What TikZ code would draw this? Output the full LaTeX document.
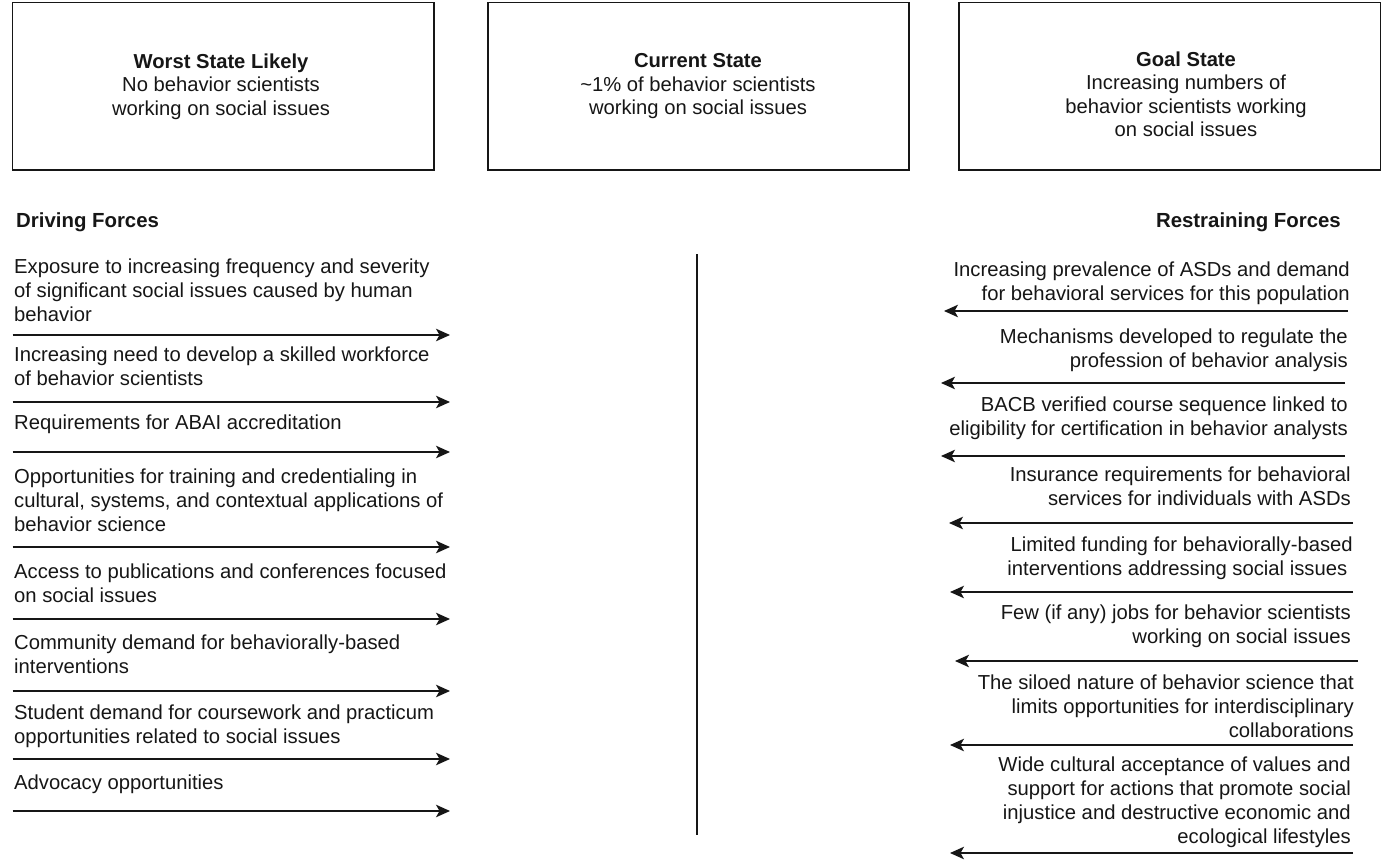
\documentclass[tikz,border=0pt]{standalone}
\usepackage{fontspec}
\setmainfont{Liberation Sans}
\usetikzlibrary{arrows.meta}
\definecolor{ink}{RGB}{22,22,22}
\begin{document}
\begin{tikzpicture}[x=1pt,y=-1pt,
  statebox/.style={draw=ink,line width=1.5pt,fill=white},
  boxtext/.style={anchor=north,align=center,inner sep=0pt,text=ink,font=\fontsize{20.2}{23.5}\selectfont},
  lefttext/.style={anchor=north west,align=left,inner sep=0pt,text=ink,font=\fontsize{20.25}{24}\selectfont},
  righttext/.style={anchor=north east,align=right,inner sep=0pt,text=ink,font=\fontsize{20.25}{24}\selectfont},
  heading/.style={inner sep=0pt,text=ink,font=\fontsize{20.4}{24}\selectfont\bfseries},
  force/.style={draw=ink,line width=1.4pt,-{Stealth[length=14pt,width=12.5pt,inset=3.5pt]}},
  divider/.style={draw=ink,line width=1.4pt}]
\useasboundingbox (0,0) rectangle (1382,864);
% state boxes
\draw[statebox] (12.5,2.5) rectangle (434,170);
\draw[statebox] (488,2.5) rectangle (909,170);
\draw[statebox] (959,2.5) rectangle (1380.5,170);
\node[boxtext] (worst) at (221,53.5) {\textbf{Worst State Likely}\\No behavior scientists\\working on social issues};
\node[boxtext] (current) at (698,53.5) {\textbf{Current State}\\\textasciitilde1\% of behavior scientists\\working on social issues};
\node[boxtext] (goal) at (1186,51.5) {\textbf{Goal State}\\Increasing numbers of\\behavior scientists working\\on social issues};
% headings
\node[heading,anchor=base west] (driving) at (16,227) {Driving Forces};
\node[heading,anchor=base east] (restraining) at (1341,227) {Restraining Forces};
% divider
\coordinate (dtop) at (697,254);
\coordinate (dbot) at (697,835);
\draw[divider] (dtop) -- (dbot);
% driving forces
\node[lefttext] (d1) at (14,258.7) {Exposure to increasing frequency and severity\\of significant social issues caused by human\\behavior};
\node[lefttext] (d2) at (14,346.2) {Increasing need to develop a skilled workforce\\of behavior scientists};
\node[lefttext] (d3) at (14,414.2) {Requirements for ABAI accreditation};
\node[lefttext] (d4) at (14,468.2) {Opportunities for training and credentialing in\\cultural, systems, and contextual applications of\\behavior science};
\node[lefttext] (d5) at (14,563.2) {Access to publications and conferences focused\\on social issues};
\node[lefttext] (d6) at (14,634.2) {Community demand for behaviorally-based\\interventions};
\node[lefttext] (d7) at (14,704.2) {Student demand for coursework and practicum\\opportunities related to social issues};
\node[lefttext] (d8) at (14,774.2) {Advocacy opportunities};
\foreach \i/\y in {1/335,2/402,3/452,4/547,5/619,6/691,7/759,8/811}{
  \coordinate (ds\i) at (12.5,\y);
  \coordinate (de\i) at (450,\y);
  \draw[force] (ds\i) -- (de\i);
}
% restraining forces
\node[righttext] (r1) at (1350,261.2) {Increasing prevalence of ASDs and demand\\for behavioral services for this population};
\node[righttext] (r2) at (1348,328.2) {Mechanisms developed to regulate the\\profession of behavior analysis};
\node[righttext] (r3) at (1348,396.2) {BACB verified course sequence linked to\\eligibility for certification in behavior analysts};
\node[righttext] (r4) at (1351,466.2) {Insurance requirements for behavioral\\services for individuals with ASDs};
\node[righttext] (r5) at (1353,536.2) {Limited funding for behaviorally-based\\interventions addressing social issues\hspace*{5.5pt}};
\node[righttext] (r6) at (1351,604.2) {Few (if any) jobs for behavior scientists\\working on social issues};
\node[righttext] (r7) at (1354,674.2) {The siloed nature of behavior science that\\limits opportunities for interdisciplinary\\collaborations};
\node[righttext] (r8) at (1351,756.2) {Wide cultural acceptance of values and\\support for actions that promote social\\injustice and destructive economic and\\ecological lifestyles};
\foreach \i/\xs/\xe/\y in {1/1348/944/311,2/1345/941/383,3/1345/941/456,4/1353/949/523,5/1353/950/592,6/1358/955/661,7/1353/950/745,8/1353/950/853}{
  \coordinate (rs\i) at (\xs,\y);
  \coordinate (re\i) at (\xe,\y);
  \draw[force] (rs\i) -- (re\i);
}
\end{tikzpicture}
\end{document}
